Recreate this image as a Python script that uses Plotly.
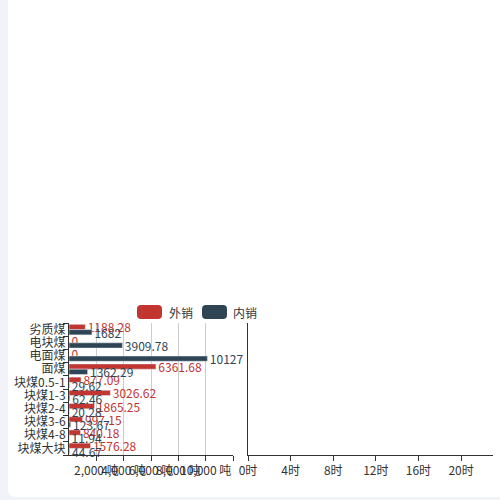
import plotly.graph_objects as go

categories = ['劣质煤', '电块煤', '电面煤', '面煤', '块煤0.5-1', '块煤1-3', '块煤2-4', '块煤3-6', '块煤4-8', '块煤大块']
waixiao = [1188.28, 0, 0, 6361.68, 877.09, 3026.62, 1865.25, 997.15, 840.18, 1576.28]
neixiao = [1682, 3909.78, 10127, 1362.29, 29.62, 62.46, 20.28, 123.67, 11.94, 44.67]
ton_ticks = [2000, 4000, 6000, 8000, 10000, 12000]
ton_labels = ['2,000 吨', '4,000 吨', '6,000 吨', '8,000 吨', '10,000 吨', '']
hours = ['0时', '1时', '2时', '3时', '4时', '5时', '6时', '7时', '8时', '9时', '10时', '11时',
         '12时', '13时', '14时', '15时', '16时', '17时', '18时', '19时', '20时', '21时', '22时', '23时']
hour_ticks = ['0时', '4时', '8时', '12时', '16时', '20时']

RED = '#c23531'
DARK = '#2f4554'
BG = '#f2f3f8'
FONT = 'Noto Sans CJK SC'
W = 500


def px(x, y):
    return x / W, 1 - y / W


def rounded(x0, y0, x1, y1, r):
    # rounded rect path in paper coords from pixel box
    a, b = px(x0, y0)
    c, d = px(x1, y1)
    rr = r / W
    return (f'M{a + rr},{b} L{c - rr},{b} Q{c},{b} {c},{b - rr} L{c},{d + rr} Q{c},{d} {c - rr},{d} '
            f'L{a + rr},{d} Q{a},{d} {a},{d + rr} L{a},{b - rr} Q{a},{b} {a + rr},{b} Z')


def labels(vals):
    # thin space keeps the label a bit off the bar end, like the original
    return ['\u2009%g' % v for v in vals]


fig = go.Figure()
fig.add_trace(go.Bar(y=categories, x=waixiao, orientation='h', name='外销', marker_color=RED,
                     text=labels(waixiao), textposition='outside', constraintext='none',
                     cliponaxis=False, textfont=dict(color=RED, size=12, family=FONT)))
fig.add_trace(go.Bar(y=categories, x=neixiao, orientation='h', name='内销', marker_color=DARK,
                     text=labels(neixiao), textposition='outside', constraintext='none',
                     cliponaxis=False, textfont=dict(color=DARK, size=12, family=FONT)))
fig.add_trace(go.Scatter(x=hours, y=[None] * len(hours), xaxis='x2', yaxis='y2', mode='lines',
                         showlegend=False))

shapes = [dict(type='path', xref='paper', yref='paper', path=rounded(8, -20, 520, 497, 8),
               fillcolor='white', line_width=0, layer='below'),
          dict(type='path', xref='paper', yref='paper', path=rounded(137, 305, 162, 319, 4),
               fillcolor=RED, line_width=0),
          dict(type='path', xref='paper', yref='paper', path=rounded(202, 305, 227, 319, 4),
               fillcolor=DARK, line_width=0)]

annotations = []
for xx, label in [(167, '外销'), (231, '内销')]:
    ax, ay = px(xx, 312)
    annotations.append(dict(x=ax, y=ay, xref='paper', yref='paper', text=label, showarrow=False,
                            xanchor='left', yanchor='middle', font=dict(size=12, color='#333', family=FONT)))

fig.update_layout(
    width=500, height=500,
    margin=dict(l=0, r=0, t=0, b=0),
    paper_bgcolor=BG, plot_bgcolor='rgba(0,0,0,0)',
    font=dict(family=FONT, size=12, color='#333'),
    showlegend=False,
    barmode='group', bargap=0.2, bargroupgap=0,
    shapes=shapes, annotations=annotations,
    xaxis=dict(domain=[69 / W, 233 / W], range=[0, 12000], tickvals=ton_ticks, ticktext=ton_labels,
               tickangle=0, showgrid=True, gridcolor='#ccc', zeroline=False, showline=True, linecolor='#333',
               ticks='outside', ticklen=5, tickcolor='#333', automargin=False, anchor='y'),
    yaxis=dict(domain=[1 - 455 / W, 1 - 323 / W], categoryorder='array', categoryarray=categories,
               tickmode='array', tickvals=categories,
               range=[len(categories) - 0.5, -0.5], showline=True, linecolor='#333', showgrid=False,
               ticks='outside', ticklen=5, tickcolor='#333', tickson='boundaries', automargin=False,
               anchor='x'),
    xaxis2=dict(domain=[248 / W, 493 / W], type='category', categoryorder='array', categoryarray=hours,
                range=[0, len(hours) - 1], tickmode='array', tickvals=hour_ticks, tickangle=0,
                showgrid=False, zeroline=False,
                showline=True, linecolor='#333', ticks='outside', ticklen=5, tickcolor='#333',
                automargin=False, anchor='y2'),
    yaxis2=dict(domain=[1 - 455 / W, 1 - 323 / W], range=[0, 1], showline=True, linecolor='#333',
                showgrid=False, zeroline=False, showticklabels=False, ticks='', automargin=False,
                anchor='x2'),
)

fig.write_html('out.html', config={'displayModeBar': False},
               post_script="document.body.style.margin='0';document.body.style.background='%s';" % BG)
